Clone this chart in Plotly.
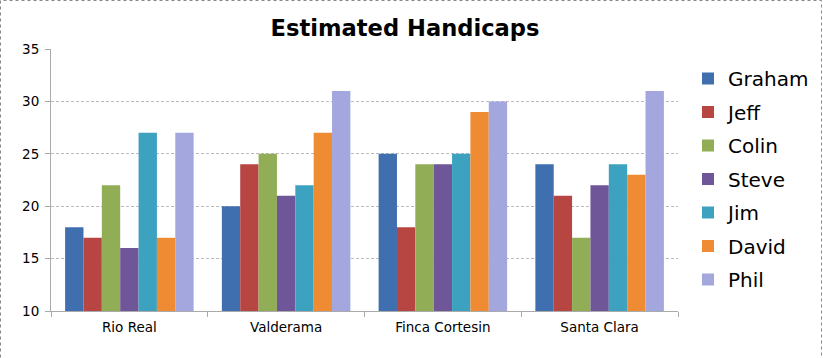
import plotly.graph_objects as go

courses = ["Rio Real", "Valderama", "Finca Cortesin", "Santa Clara"]
players = ["Graham", "Jeff", "Colin", "Steve", "Jim", "David", "Phil"]
graham = [18, 20, 25, 24]
jeff = [17, 24, 18, 21]
colin = [22, 25, 24, 17]
steve = [16, 21, 24, 22]
jim = [27, 22, 25, 24]
david = [17, 27, 29, 23]
phil = [27, 31, 30, 31]
series = [graham, jeff, colin, steve, jim, david, phil]
colors = ["#3F6FAE", "#B74542", "#91AE56", "#6F5699", "#3DA2BF", "#EF8B33", "#A3A7DE"]

W, H = 823, 358
L, R, T, B = 51, 145, 49, 47

fig = go.Figure()
for name, vals, c in zip(players, series, colors):
    fig.add_trace(go.Bar(
        x=courses, y=vals, name=name, base=0,
        marker=dict(color=c, line=dict(width=0)),
        legendgroup=name,
    ))

pw = W - L - R
ph = H - T - B

fig.update_layout(
    width=W, height=H,
    margin=dict(l=L, r=R, t=T, b=B, autoexpand=False),
    paper_bgcolor="white", plot_bgcolor="white",
    barmode="group", bargap=0.18, bargroupgap=0,
    title=dict(text="<b>Estimated Handicaps</b>", x=405 / W, xanchor="center",
               y=1 - 28 / H, yanchor="middle",
               font=dict(family="DejaVu Sans", size=22.6, color="black")),
    font=dict(family="DejaVu Sans", color="black"),
    showlegend=True,
    legend=dict(x=(688 - L) / pw, xanchor="left", y=(H - 59 - B) / ph, yanchor="top",
                font=dict(size=20, family="DejaVu Sans", color="black"),
                tracegroupgap=4.5, itemwidth=30, bgcolor="rgba(0,0,0,0)"),
    xaxis=dict(showline=True, linecolor="#AAAAAA", linewidth=1,
               ticks="outside", tickson="boundaries", ticklen=5, tickcolor="#AAAAAA",
               tickfont=dict(size=13.5, family="DejaVu Sans", color="black"),
               ticklabelstandoff=4,
               showgrid=False, automargin=False),
    yaxis=dict(range=[10, 35], dtick=5, showline=True, linecolor="#AAAAAA", linewidth=1,
               ticks="outside", ticklen=5, tickcolor="#AAAAAA",
               showgrid=True, gridcolor="#BBBBBB", griddash="3px,2px", gridwidth=1,
               tickfont=dict(size=13.5, family="DejaVu Sans", color="black"),
               ticklabelstandoff=3,
               zeroline=False, automargin=False),
)

# outer dashed border
fig.add_shape(type="rect", xref="paper", yref="paper",
              x0=(0.5 - L) / pw, x1=(W - 1.5 - L) / pw,
              y0=(B - H + 1.5) / ph, y1=(H - 0.5 - B) / ph,
              line=dict(color="#888888", width=1, dash="dot"), layer="above")

fig.write_html("out.html", config={"displayModeBar": False},
               post_script="document.body.style.margin='0';document.body.style.padding='0';")
